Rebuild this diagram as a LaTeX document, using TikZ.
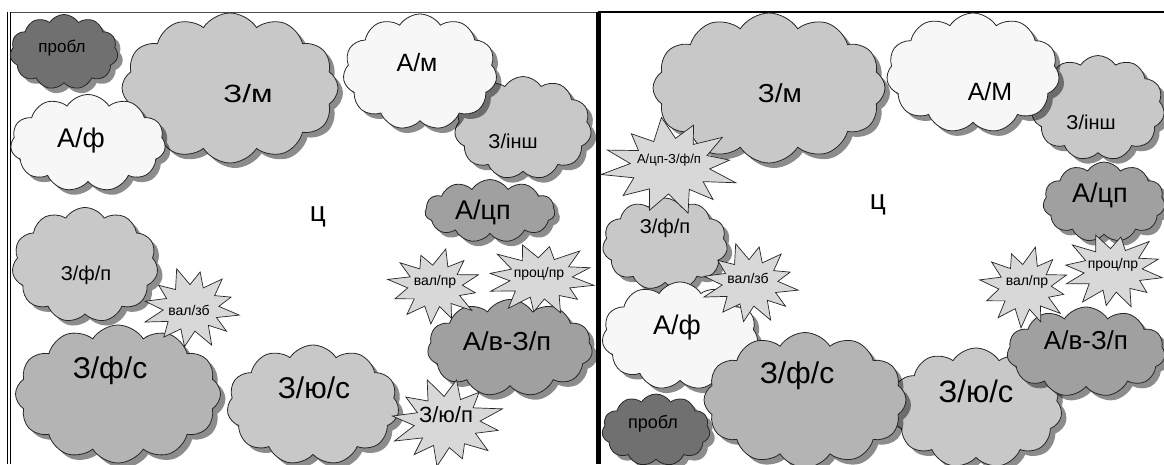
\documentclass[tikz,border=0pt]{standalone}
\usepackage{fontspec}
\setmainfont{Liberation Sans}
\usetikzlibrary{shapes.symbols,shadows}
\definecolor{cwhite}{HTML}{F7F7F7}
\definecolor{clight}{HTML}{C8C8C8}
\definecolor{cmid}{HTML}{B4B4B4}
\definecolor{cdark}{HTML}{A0A0A0}
\definecolor{cvdark}{HTML}{707070}
\definecolor{cstar}{HTML}{D8D8D8}
\tikzset{
  cl/.style={cloud, cloud puffs=11, cloud puff arc=115, cloud ignores aspect,
    draw=black!85, line width=0.8pt, inner sep=0pt,
    drop shadow={shadow xshift=5pt, shadow yshift=-5pt, fill=black, opacity=0.45}},
  sbs/.style={draw=black!85, line width=0.7pt, fill=cstar, line join=miter},
  fs/.style={font=\fontsize{#1}{#1}\selectfont},
  frame/.style={line width=1pt, draw=black}
}
\def\burstpat{14/0.57, 28/0.92, 40/0.55, 55/1.0, 72/0.57, 88/0.95, 102/0.55, 118/0.9, 135/0.57, 150/1.0, 165/0.57, 180/0.95, 195/0.55, 210/0.86, 225/0.55, 243/1.0, 258/0.57, 272/0.9, 287/0.55, 302/0.95, 318/0.57, 332/0.86, 346/0.57}
% #1 centre coordinate, #2 x-radius, #3 y-radius, #4 rotation
\newcommand\starb[4]{%
  \draw[sbs] ([shift={(#1)}]#4:#2 and #3)
    \foreach \a/\r in \burstpat {-- ([shift={(#1)}]{\a+#4}:{\r*#2} and {\r*#3})} -- cycle;}
\begin{document}
\begin{tikzpicture}[x=1pt,y=-1pt]
\useasboundingbox (0,0) rectangle (1164,464);
% ---------- frames
\coordinate (ltl) at (9,12);
\coordinate (ltr) at (598,12);
\coordinate (lbl) at (9,464);
\coordinate (rtl) at (598,12);
\coordinate (rtr) at (1164,12);
\coordinate (rbl) at (598,464);
\draw[frame, draw=black!70] (ltl) -- (ltr);
\draw[double, double distance=2pt, line width=0.8pt] (ltl) -- (lbl);
\draw[line width=5pt] (rtl) -- (rbl);
\draw[frame, line width=1.5pt] (rtl) -- (rtr);
% ================= LEFT PANEL =================
\node[cl, fill=cdark, minimum width=130pt, minimum height=63pt] (lacp) at (490,211) {};
\node[cl, fill=clight, minimum width=137pt, minimum height=103pt] (lzin) at (523,128) {};
\node[cl, fill=cwhite, minimum width=154pt, minimum height=116pt] (lam) at (420,72) {};
\node[cl, fill=clight, cloud puffs=12, minimum width=216pt, minimum height=150pt] (lzm) at (230,88) {};
\node[cl, fill=cwhite, minimum width=155pt, minimum height=97pt] (laf) at (88,143) {};
\node[cl, fill=cvdark, minimum width=108pt, minimum height=75pt] (lpr) at (64,52) {};
\node[cl, fill=clight, minimum width=146pt, minimum height=115pt] (lzfp) at (85,265) {};
\node[cl, fill=cmid, cloud puffs=12, minimum width=205pt, minimum height=138pt] (lzfs) at (118,394) {};
\node[cl, fill=clight, minimum width=172pt, minimum height=120pt] (lzus) at (313,405) {};
\node[cl, fill=cdark, minimum width=165pt, minimum height=97pt] (lavzp) at (510,348) {};
\coordinate (lvz) at (191,308);
\coordinate (lvp) at (435,286);
\coordinate (lpp) at (541,278);
\coordinate (lzup) at (447,422);
\starb{lvz}{49}{41}{10}
\starb{lvp}{48}{38}{40}
\starb{lpp}{57}{37}{70}
\starb{lzup}{58}{45}{100}
% texts
\node[fs=17] (lprt) at (62,48) {пробл};
\node[fs=25, xscale=1.25] (lzmt) at (248,94) {З/м};
\node[fs=25] (lamt) at (417,63) {А/м};
\node[fs=20] (lzint) at (513,141) {З/інш};
\node[fs=27] (laft) at (81,141) {А/ф};
\node[fs=27] (lacpt) at (483,212) {А/цп};
\node[fs=28] (lct) at (318,217) {ц};
\node[fs=20] (lzfpt) at (86,275) {З/ф/п};
\node[fs=14] (lvzt) at (189,310) {вал/зб};
\node[fs=30] (lzfst) at (110,371) {З/ф/с};
\node[fs=30] (lzust) at (314,388) {З/ю/с};
\node[fs=14] (lvpt) at (435,282) {вал/пр};
\node[fs=14] (lppt) at (539,274) {проц/пр};
\node[fs=26, xscale=1.05] (lavzpt) at (507,341) {А/в-З/п};
\node[fs=22] (lzupt) at (446,415) {З/ю/п};
% ================= RIGHT PANEL =================
\node[cl, fill=cdark, minimum width=122pt, minimum height=80pt] (racp) at (1104,202) {};
\node[cl, fill=clight, minimum width=133pt, minimum height=105pt] (rzin) at (1098,108) {};
\node[cl, fill=clight, cloud puffs=12, minimum width=232pt, minimum height=150pt] (rzm) at (769,88) {};
\node[cl, fill=cwhite, minimum width=173pt, minimum height=120pt] (ram) at (973,73) {};
\node[cl, fill=clight, minimum width=125pt, minimum height=92pt] (rzfp) at (665,244) {};
\node[cl, fill=cvdark, minimum width=108pt, minimum height=72pt] (rpr) at (656,430) {};
\node[cl, fill=cwhite, minimum width=156pt, minimum height=108pt] (raf) at (680,336) {};
\node[cl, fill=clight, minimum width=172pt, minimum height=120pt] (rzus) at (976,408) {};
\node[cl, fill=cmid, cloud puffs=12, minimum width=202pt, minimum height=135pt] (rzfs) at (805,400) {};
\node[cl, fill=cdark, minimum width=158pt, minimum height=90pt] (ravzp) at (1086,352) {};
\coordinate (racz) at (670,166);
\coordinate (rvz) at (750,283);
\coordinate (rvp) at (1025,287);
\coordinate (rpp) at (1113,270);
\starb{racz}{70}{49}{20}
\starb{rvz}{49}{41}{10}
\starb{rvp}{46}{41}{40}
\starb{rpp}{53}{39}{70}
% texts
\node[fs=26, xscale=1.08] (rzmt) at (780,93) {З/м};
\node[fs=25] (ramt) at (990,92) {А/М};
\node[fs=20] (rzint) at (1091,122) {З/інш};
\node[fs=27] (racpt) at (1100,195) {А/цп};
\node[fs=13] (raczt) at (669,160) {А/цп-З/ф/п};
\node[fs=28] (rct) at (878,205) {ц};
\node[fs=20] (rzfpt) at (665,228) {З/ф/п};
\node[fs=14] (rvzt) at (748,278) {вал/зб};
\node[fs=27] (raft) at (677,328) {А/ф};
\node[fs=30] (rzfst) at (797,376) {З/ф/с};
\node[fs=18] (rprt) at (653,424) {пробл};
\node[fs=31] (rzust) at (976,391) {З/ю/с};
\node[fs=26] (ravzpt) at (1086,340) {А/в-З/п};
\node[fs=14] (rvpt) at (1027,282) {вал/пр};
\node[fs=14] (rppt) at (1113,265) {проц/пр};
\end{tikzpicture}
\end{document}
